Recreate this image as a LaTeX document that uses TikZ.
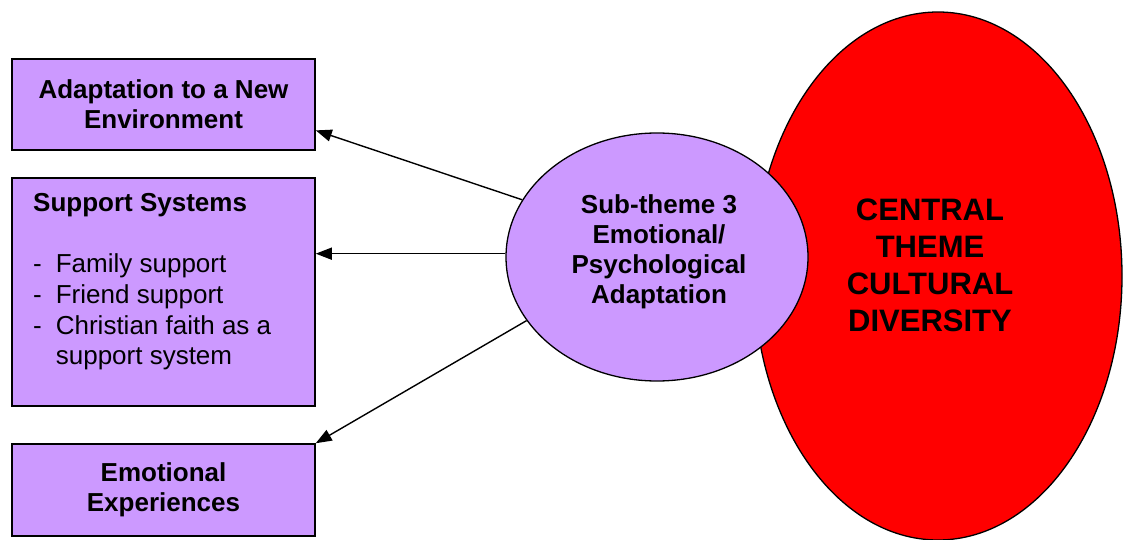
\documentclass[tikz,border=0pt]{standalone}
\usepackage{fontspec}
\setmainfont{Liberation Sans}
\usetikzlibrary{arrows.meta,shapes.geometric,calc}
\definecolor{lavender}{HTML}{CC99FF}
\definecolor{themered}{HTML}{FF0000}
\tikzset{
  topicbox/.style={draw=black,line width=1.5pt,fill=lavender,inner sep=0pt,
    minimum width=303pt,font=\fontsize{26}{30}\selectfont\bfseries,align=center},
  theme/.style={ellipse,draw=black,line width=1.3pt,inner sep=0pt,align=center},
  link/.style={line width=1.4pt,-{Triangle[length=16pt,width=12pt]}}
}
\begin{document}
\begin{tikzpicture}[x=1pt,y=-1pt]
\useasboundingbox (0,0) rectangle (1124,540);

% central theme, drawn first so the sub-theme overlaps it
\node[theme,fill=themered,minimum width=368pt,minimum height=528pt] (central) at (938,276) {};
\node[font=\fontsize{31}{37}\selectfont\bfseries,align=center] (centraltext) at (930,265)
  {CENTRAL\\THEME\\CULTURAL\\DIVERSITY};

% sub-theme
\node[theme,fill=lavender,minimum width=302pt,minimum height=248pt] (sub) at (657,257) {};
\node[font=\fontsize{26}{30}\selectfont\bfseries,align=center] (subtext) at (659,252)
  {Sub-theme 3\\Emotional/\\Psychological\\Adaptation};

% topic boxes
\node[topicbox,minimum height=91pt] (box1) at (163.5,104.5)
  {Adaptation to a New\\Environment};
\node[topicbox,minimum height=228pt] (box2) at (163.5,292) {};
\node[anchor=north west,inner sep=0pt,align=left,
      font=\fontsize{26}{30.6}\selectfont] (box2text) at (33,190)
  {\begin{tabular}{@{}l@{\hspace{14pt}}l@{}}
   \multicolumn{2}{@{}l@{}}{\bfseries Support Systems}\\[30.6pt]
   - & Family support\\
   - & Friend support\\
   - & Christian faith as a\\
     & support system
   \end{tabular}};
\node[topicbox,minimum height=92pt] (box3) at (163.5,490)
  {Emotional\\Experiences};

% connector end points on the box edges
\coordinate (end1) at ($(box1.south east)!0.22!(box1.north east)$);
\coordinate (end2) at ($(box2.north east)!0.333!(box2.south east)$);

% connectors
\draw[link] (sub.157) -- (end1);
\draw[link] (end2 -| sub.west) -- (end2);
\draw[link] (sub.206) -- (box3.north east);
\end{tikzpicture}
\end{document}
